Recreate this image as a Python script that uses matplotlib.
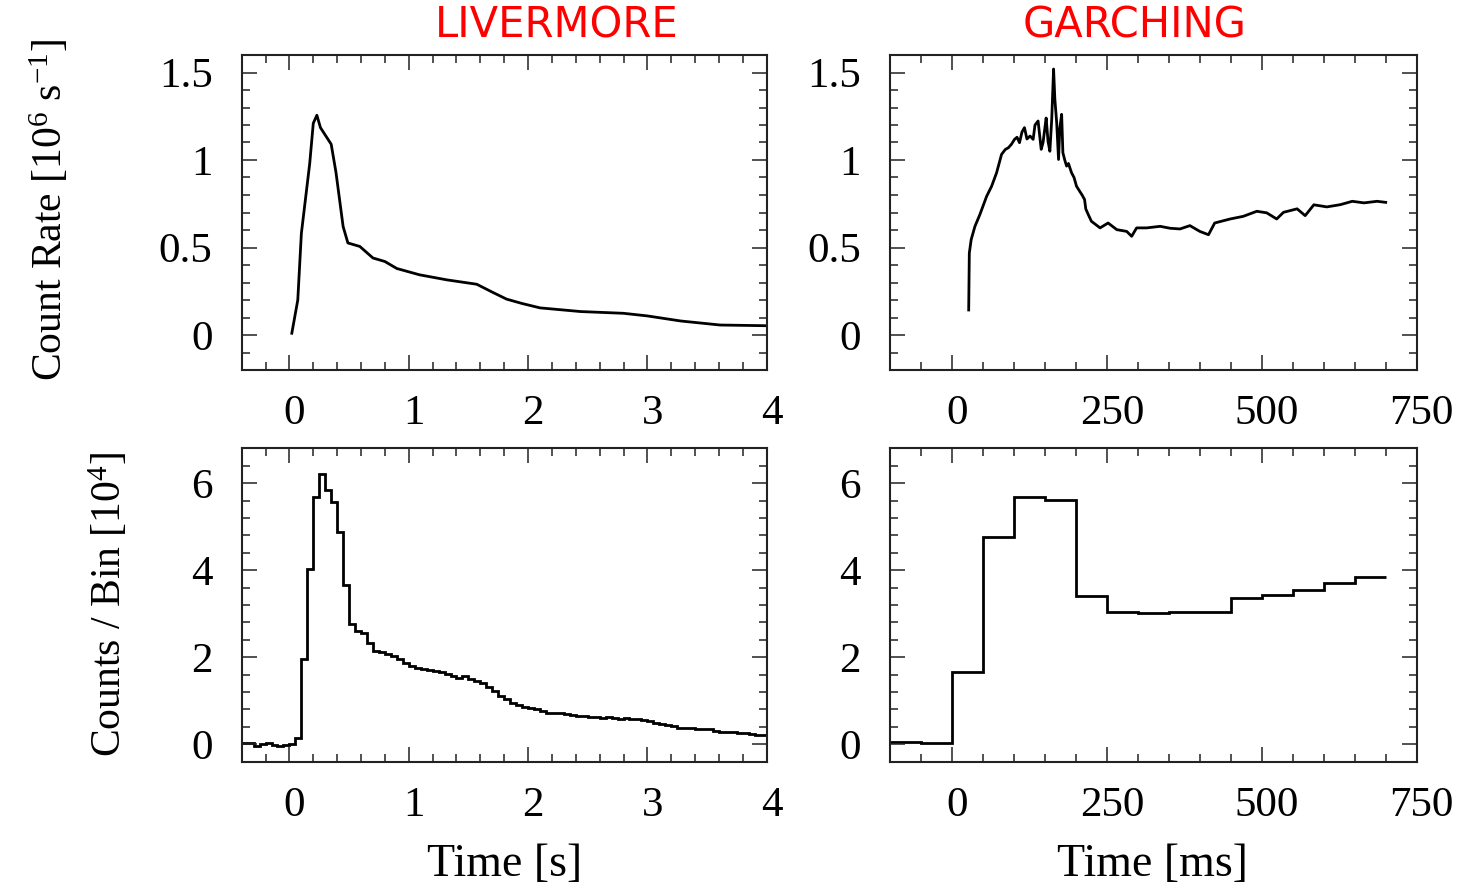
import numpy as np
import matplotlib
matplotlib.use("Agg")
import matplotlib.pyplot as plt
from matplotlib.ticker import MultipleLocator
from matplotlib.transforms import ScaledTranslation

# Livermore count rate [10^6 s^-1] vs time [s]
liv_t = [0.02, 0.07, 0.10, 0.17, 0.20, 0.23, 0.26, 0.35, 0.39, 0.45, 0.49, 0.59,
         0.70, 0.80, 0.90, 1.09, 1.32, 1.57, 1.70, 1.82, 1.95, 2.10, 2.44, 2.80,
         3.00, 3.28, 3.61, 4.00]
liv_rate = [0.01, 0.20, 0.58, 0.98, 1.21, 1.256, 1.185, 1.09, 0.93, 0.62, 0.526, 0.506,
            0.44, 0.42, 0.38, 0.344, 0.315, 0.29, 0.245, 0.205, 0.18, 0.155, 0.134, 0.124,
            0.109, 0.08, 0.057, 0.053]

# Garching count rate vs time [ms]
gar_t = [27, 28, 31, 37, 45, 56, 64, 72, 80, 86, 91, 96, 101, 105, 109, 113, 117, 121,
         126, 131, 134, 139, 144, 147, 150, 152, 155, 158, 161, 164, 166, 169, 172, 174,
         177, 179, 182, 185, 188, 193, 197, 201, 206, 210, 214, 216, 220, 225, 239, 252,
         266, 282, 290, 298, 314, 336, 352, 368, 384, 400, 414, 424, 449, 470, 492, 508,
         524, 535, 557, 570, 584, 605, 627, 646, 665, 686, 700]
gar_rate = [0.143, 0.468, 0.545, 0.62, 0.688, 0.793, 0.85, 0.927, 1.032, 1.06, 1.07, 1.09,
            1.118, 1.13, 1.099, 1.16, 1.185, 1.12, 1.137, 1.118, 1.20, 1.223, 1.061, 1.10,
            1.185, 1.24, 1.108, 1.05, 1.233, 1.52, 1.35, 1.214, 1.003, 1.18, 1.261, 1.042,
            1.00, 0.965, 0.98, 0.927, 0.90, 0.85, 0.822, 0.80, 0.774, 0.72, 0.688, 0.65,
            0.612, 0.64, 0.602, 0.592, 0.564, 0.612, 0.612, 0.621, 0.61, 0.606, 0.625, 0.592,
            0.573, 0.64, 0.663, 0.678, 0.707, 0.698, 0.663, 0.701, 0.721, 0.682, 0.744,
            0.732, 0.745, 0.764, 0.755, 0.764, 0.758]

# Livermore counts per 50 ms bin [10^4], bins from -0.40 s to 4.00 s
liv_bin_width = 0.05
liv_bin_start = -0.40
liv_counts = [0.04, 0.03, -0.03, 0.01, 0.02, -0.02, -0.03, -0.02,
              0.00, 0.15, 1.95, 4.03, 5.68, 6.20, 5.85, 5.57, 4.88, 3.65,
              2.76, 2.60, 2.55, 2.33, 2.15, 2.13, 2.08, 2.02, 1.95, 1.87,
              1.81, 1.76, 1.72, 1.70, 1.68, 1.66, 1.62, 1.58, 1.53, 1.56,
              1.50, 1.45, 1.40, 1.31, 1.23, 1.12, 1.03, 0.95, 0.90, 0.86,
              0.83, 0.80, 0.77, 0.73, 0.71, 0.72, 0.69, 0.67, 0.65, 0.66,
              0.63, 0.62, 0.60, 0.62, 0.60, 0.59, 0.60, 0.58, 0.57, 0.55,
              0.53, 0.50, 0.47, 0.44, 0.42, 0.38, 0.37, 0.38, 0.36, 0.35,
              0.34, 0.31, 0.29, 0.28, 0.28, 0.26, 0.25, 0.23, 0.21, 0.22]

# Garching counts per 50 ms bin [10^4], bins from -100 ms to 700 ms
gar_bin_width = 50
gar_bin_start = -100
gar_counts = [0.06, 0.02, 1.65, 4.77, 5.67, 5.61, 3.41, 3.03, 3.02, 3.05, 3.04,
              3.36, 3.42, 3.55, 3.70, 3.85]

plt.rcParams['font.family'] = ['Liberation Serif', 'DejaVu Serif']
plt.rcParams['mathtext.fontset'] = 'custom'
plt.rcParams['mathtext.rm'] = 'Liberation Serif'
plt.rcParams['mathtext.it'] = 'Liberation Serif:italic'
plt.rcParams['font.size'] = 31
plt.rcParams['axes.linewidth'] = 1.5

W, H = 1472, 890
fig = plt.figure(figsize=(W / 100, H / 100), dpi=100)

def box(x0, y0, x1, y1):
    return [x0 / W, 1 - y1 / H, (x1 - x0) / W, (y1 - y0) / H]

ax_tl = fig.add_axes(box(241.7, 55, 766.7, 370))
ax_tr = fig.add_axes(box(890, 55, 1416.7, 370))
ax_bl = fig.add_axes(box(241.7, 448.3, 766.7, 761.7))
ax_br = fig.add_axes(box(890, 448.3, 1416.7, 761.7))

lc = 'black'
lw = 2.0
ax_tl.plot(liv_t, liv_rate, color=lc, lw=lw)
ax_tr.plot(gar_t, gar_rate, color=lc, lw=lw)

liv_edges = liv_bin_start + liv_bin_width * np.arange(len(liv_counts) + 1)
ax_bl.stairs(liv_counts, liv_edges, baseline=None, color=lc, lw=lw)
gar_edges = gar_bin_start + gar_bin_width * np.arange(len(gar_counts) + 1)
ax_br.stairs(gar_counts, gar_edges, baseline=None, color=lc, lw=lw)

for ax in (ax_tl, ax_bl):
    ax.set_xlim(-0.4, 4.0)
    ax.xaxis.set_major_locator(MultipleLocator(1))
    ax.xaxis.set_minor_locator(MultipleLocator(0.2))
for ax in (ax_tr, ax_br):
    ax.set_xlim(-100, 750)
    ax.xaxis.set_major_locator(MultipleLocator(250))
    ax.xaxis.set_minor_locator(MultipleLocator(50))
for ax in (ax_tl, ax_tr):
    ax.set_ylim(-0.2, 1.6)
    ax.yaxis.set_minor_locator(MultipleLocator(0.1))
    ax.set_yticks([0, 0.5, 1, 1.5])
    ax.set_yticklabels(['0', '0.5', '1', '1.5'])
for ax in (ax_bl, ax_br):
    ax.set_ylim(-0.4, 6.8)
    ax.yaxis.set_major_locator(MultipleLocator(2))
    ax.yaxis.set_minor_locator(MultipleLocator(0.4))

shift = ScaledTranslation(5 / 100, 0, fig.dpi_scale_trans)
for ax in (ax_tl, ax_tr, ax_bl, ax_br):
    for s in ax.spines.values():
        s.set_color('#222222')
    ax.tick_params(which='both', direction='in', top=True, right=True,
                   color='#222222', width=1.1)
    ax.tick_params(which='major', length=11)
    ax.tick_params(which='minor', length=6)
    ax.tick_params(axis='x', which='major', pad=18)
    ax.tick_params(axis='y', which='major', pad=21)
    for lab in ax.get_xticklabels():
        lab.set_transform(lab.get_transform() + shift)

fig.text(50 / W, 1 - 210 / H, r'Count Rate [10$^{6}$ s$^{-1}$]', rotation=90,
         ha='center', va='center', fontsize=30)
fig.text(109 / W, 1 - 605 / H, r'Counts / Bin [10$^{4}$]', rotation=90,
         ha='center', va='center', fontsize=30)
fig.text(505 / W, 1 - 865 / H, 'Time [s]', ha='center', va='center', fontsize=33)
fig.text(1152 / W, 1 - 865 / H, 'Time [ms]', ha='center', va='center', fontsize=33)

fig.text(557 / W, 1 - 25 / H, 'LIVERMORE', color='red', family='DejaVu Sans',
         ha='center', va='center', fontsize=30)
fig.text(1135 / W, 1 - 25 / H, 'GARCHING', color='red', family='DejaVu Sans',
         ha='center', va='center', fontsize=30)

fig.savefig('out.png', dpi=100)
